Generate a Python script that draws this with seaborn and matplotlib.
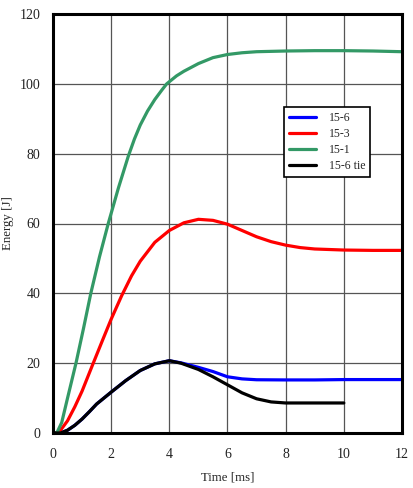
import matplotlib
matplotlib.use("Agg")
import matplotlib.pyplot as plt
import pandas as pd
import seaborn as sns

# energy vs time
t_151 = [0, 0.13, 0.3, 0.5, 0.79, 1.05, 1.3, 1.6, 1.9, 2.25, 2.59, 2.8, 3.0, 3.25, 3.5, 3.75, 3.91,
         4.25, 4.5, 5.0, 5.5, 6.0, 6.5, 7.0, 8.0, 9.0, 10.0, 11.0, 12.0]
e_151 = [0, 0, 3, 10, 20, 30, 40, 50.5, 60, 70.2, 79.3, 84.2, 88.2, 92.2, 95.5, 98.3, 100,
         102.3, 103.6, 105.8, 107.5, 108.4, 108.9, 109.2, 109.4, 109.5, 109.5, 109.4, 109.2]

t_153 = [0, 0.19, 0.5, 0.75, 1.0, 1.36, 1.7, 2.0, 2.36, 2.7, 3.0, 3.5, 4.0, 4.5, 5.0, 5.5, 6.0, 6.5,
         7.0, 7.5, 8.0, 8.5, 9.0, 10.0, 11.0, 12.0]
e_153 = [0, 0, 3.5, 7.5, 12, 19.5, 26.5, 32.6, 39.3, 45, 49.2, 54.6, 58, 60.2, 61.2, 60.9, 59.8, 58,
         56.2, 54.8, 53.8, 53.1, 52.7, 52.4, 52.3, 52.3]

t_156 = [0, 0.26, 0.5, 0.75, 1.0, 1.25, 1.5, 2.0, 2.5, 3.0, 3.5, 4.0, 4.4, 5.0, 5.5, 6.0, 6.5,
         7.0, 8.0, 9.0, 10.0, 11.0, 12.0]
e_156 = [0, 0, 0.8, 2.2, 4, 6.1, 8.3, 11.7, 15, 17.9, 19.8, 20.7, 20.1, 18.8, 17.6, 16.1, 15.5,
         15.25, 15.2, 15.2, 15.3, 15.3, 15.3]

t_156tie = [0, 0.26, 0.5, 0.75, 1.0, 1.25, 1.5, 2.0, 2.5, 3.0, 3.5, 4.0, 4.4, 5.0, 5.5, 6.0, 6.5,
            7.0, 7.5, 8.0, 9.0, 10.0]
e_156tie = [0, 0, 0.8, 2.2, 4, 6.1, 8.3, 11.7, 15, 17.9, 19.8, 20.7, 20.0, 18.2, 16.1, 13.8, 11.5,
            9.8, 8.9, 8.6, 8.6, 8.6]

series = ["15-6", "15-3", "15-1", "15-6 tie"]
cores = ["#0000FF", "#FF0000", "#339966", "#000000"]

df = pd.concat([
    pd.DataFrame({"Time": t_156, "Energy": e_156, "serie": "15-6"}),
    pd.DataFrame({"Time": t_153, "Energy": e_153, "serie": "15-3"}),
    pd.DataFrame({"Time": t_151, "Energy": e_151, "serie": "15-1"}),
    pd.DataFrame({"Time": t_156tie, "Energy": e_156tie, "serie": "15-6 tie"}),
], ignore_index=True)

sns.set_style("white")
plt.rcParams["font.family"] = ["Liberation Serif", "DejaVu Serif"]

fig = plt.figure(figsize=(4.14, 4.88), dpi=100)
ax = fig.add_axes([53 / 414, 1 - 433 / 488, 349 / 414, 419 / 488])

sns.lineplot(data=df, x="Time", y="Energy", hue="serie", hue_order=series,
             palette=cores, linewidth=2.3, sort=False, estimator=None, ax=ax)

ax.set_xlim(0, 12)
ax.set_ylim(0, 120)
ax.set_xticks(range(0, 13, 2))
ax.set_yticks(range(0, 121, 20))
ax.grid(True, color="#555555", linewidth=0.9)
ax.set_axisbelow(True)
for s in ax.spines.values():
    s.set_color("black")
    s.set_linewidth(2.2)
ax.tick_params(length=0, labelsize=10, colors="#222222")
ax.tick_params(axis="x", pad=11)
ax.tick_params(axis="y", pad=9)
ax.set_xlabel("Time [ms]", fontsize=9.3, labelpad=7)
ax.set_ylabel("Energy [J]", fontsize=9.3, labelpad=4)

leg = ax.legend(loc="upper left", bbox_to_anchor=(231 / 349, 1 - 93 / 419), fontsize=8.5,
                frameon=True, fancybox=False, edgecolor="black", framealpha=1,
                borderaxespad=0, handlelength=2.3, borderpad=0.4, labelspacing=0.35,
                handletextpad=1.1)
leg.get_frame().set_linewidth(1.2)

fig.savefig("out.png", dpi=100)
